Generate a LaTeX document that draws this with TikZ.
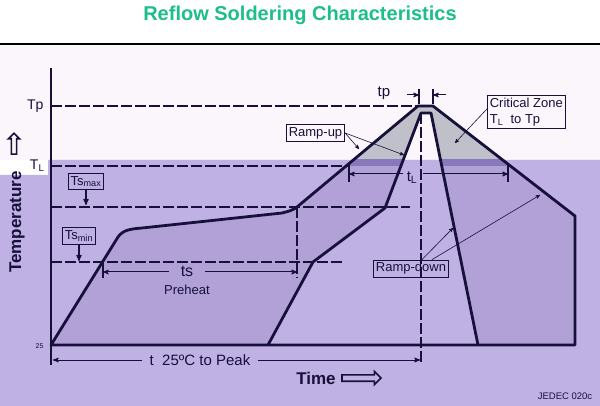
\documentclass[tikz,border=0pt]{standalone}
\usepackage{fontspec}
\setmainfont{Liberation Sans}
\usepackage{tikz}
\usetikzlibrary{arrows}
\usetikzlibrary{positioning}
\usetikzlibrary{shapes.arrows}
\definecolor{ink}{RGB}{22,16,58}
\definecolor{paper}{RGB}{251,245,252}
\definecolor{lilac}{RGB}{192,177,228}
\definecolor{lilacdark}{RGB}{177,161,215}
\definecolor{zonegray}{RGB}{192,192,202}
\definecolor{zoneband}{RGB}{135,121,186}
\definecolor{titlegreen}{RGB}{28,190,140}
\tikzstyle{level} = [ink,line width=1.8pt,dash pattern=on 11pt off 3pt]
\tikzstyle{profile} = [ink,line width=2.8pt,line join=round]
\tikzstyle{callout} = [draw=ink,line width=0.7pt,font=\fontsize{13}{16}\selectfont,inner sep=2.5pt]
\tikzstyle{pointer} = [->,ink,line width=0.6pt]
\tikzstyle{span} = [->,ink,line width=1pt]
\tikzstyle{tick} = [ink,line width=1.2pt]
\tikzstyle{axislabel} = [font=\fontsize{17}{19}\selectfont\bfseries]
\tikzstyle{fatarrow} = [single arrow,draw=ink,line width=1.6pt,single arrow head indent=0pt]
\def\outerpath{(51,345) -- (118,237) .. controls (123,230) and (130,229) .. (142,228)
  -- (282,213) .. controls (290,211) and (293,210) .. (297,207)
  -- (418,106) -- (433,106) -- (575,216) -- (575,345) -- cycle}
\def\innerpath{(268,345) -- (313,262) -- (385,208) -- (421,113) -- (431,113) -- (478,345) -- cycle}

\begin{document}
\begin{tikzpicture}[x=1pt,y=-1pt,> = stealth',every node/.style={text=ink}]
    \useasboundingbox (0,0) rectangle (600,406);
    % backgrounds
    \fill[white] (0,0) rectangle (600,44);
    \fill[paper] (0,44) rectangle (600,160);
    \fill[lilac] (0,175) -- (48,175) -- (48,160) -- (600,160) -- (600,406) -- (0,406) -- cycle;
    \draw[black,line width=2.5pt] (0,44) -- (600,44);

    \node[font=\fontsize{20}{24}\selectfont\bfseries,text=titlegreen] (title) at (300,15) {Reflow Soldering Characteristics};

    % shaded profile and critical zone
    \fill[lilacdark,even odd rule] \outerpath \innerpath;
    \begin{scope}
      \clip (0,0) rectangle (600,166);
      \fill[zonegray,even odd rule] \outerpath \innerpath;
    \end{scope}
    \begin{scope}
      \clip (0,160) rectangle (600,166);
      \fill[zoneband,even odd rule] \outerpath \innerpath;
    \end{scope}

    % levels
    \coordinate (tp0) at (51,106);   \coordinate (tp1) at (418,106);
    \coordinate (tl0) at (51,166);   \coordinate (tl1) at (348,166);
    \coordinate (smax0) at (51,207); \coordinate (smax1) at (410,207);
    \coordinate (smin0) at (51,262); \coordinate (smin1) at (344,262);
    \draw[level] (tp0) -- (tp1);
    \draw[level] (tl0) -- (tl1);
    \draw[level] (smax0) -- (smax1);
    \draw[level] (smin0) -- (smin1);
    \coordinate (pk0) at (421,113);  \coordinate (pk1) at (421,365);
    \draw[level,line width=1.6pt] (pk0) -- (pk1);
    \coordinate (ts0) at (297,207);  \coordinate (ts1) at (297,278);
    \draw[level,line width=1.4pt] (ts0) -- (ts1);

    % profile
    \draw[profile] \outerpath;
    \draw[profile] (268,345) -- (313,262) -- (385,208) -- (421,113) -- (431,113) -- (478,345);
    \coordinate (ax0) at (51,68);    \coordinate (ax1) at (51,365);
    \draw[ink,line width=2.8pt] (ax0) -- (ax1);

    % axis labels
    \node[anchor=east,font=\fontsize{14}{16}\selectfont] (tplab) at (47,106) {Tp};
    \node[anchor=east,font=\fontsize{14}{16}\selectfont] (tllab) at (48,166) {T\textsubscript{L}};
    \node[anchor=east,font=\fontsize{7}{8}\selectfont] (base) at (47,346) {25};
    \node[axislabel,rotate=90] (temp) at (17,222) {Temperature};
    \node[fatarrow,shape border rotate=90,minimum height=21pt,inner sep=1.8pt,single arrow head extend=3pt] (uparrow) at (14,145) {};
    \node[axislabel] (time) at (316,378) {Time};
    \node[fatarrow,minimum height=39pt,inner sep=2.4pt,single arrow head extend=3.4pt,right=2pt of time] (rightarrow) {};
    \node[font=\fontsize{9.5}{11}\selectfont] (jedec) at (565,396) {JEDEC 020c};

    % ts
    \coordinate (sa) at (103,262);   \coordinate (sb) at (103,278);
    \draw[tick] (sa) -- (sb);
    \node[font=\fontsize{16}{18}\selectfont] (ts) at (187,271) {ts};
    \node[font=\fontsize{13}{15}\selectfont,below=2pt of ts] (pre) {Preheat};
    \draw[span] (ts.west) ++(-8,1) -- (103,272);
    \draw[span] (ts.east) ++(8,1) -- (297,272);

    % tL
    \coordinate (la) at (349,165);   \coordinate (lb) at (349,182);
    \coordinate (lc) at (508,165);   \coordinate (ld) at (508,182);
    \draw[tick] (la) -- (lb);
    \draw[tick] (lc) -- (ld);
    \node[font=\fontsize{15}{17}\selectfont] (tl) at (412,178) {t\textsubscript{L}};
    \draw[span] (403,174) -- (349,174);
    \draw[span] (423,174) -- (508,174);

    % tp
    \node[font=\fontsize{15}{17}\selectfont] (tp) at (384,93) {tp};
    \coordinate (pa) at (419,89);    \coordinate (pb) at (419,104);
    \coordinate (pc) at (433,89);    \coordinate (pd) at (433,104);
    \draw[tick] (pa) -- (pb);
    \draw[tick] (pc) -- (pd);
    \draw[span] (407,95) -- (419,95);
    \draw[span] (446,95) -- (433,95);

    % t 25C to peak
    \node[font=\fontsize{15}{17}\selectfont] (tpeak) at (200,360) {t\ \ 25ºC to Peak};
    \draw[span] (tpeak.west) ++(-4,0) -- (53,360);
    \draw[span] (tpeak.east) ++(4,0) -- (420,360);

    % callouts
    \node[callout] (smax) at (86,181.5) {Ts\textsubscript{max}};
    \draw[->,ink,line width=1.2pt] (smax.south) -- (86,205);
    \node[callout] (smin) at (79,236) {Ts\textsubscript{min}};
    \draw[->,ink,line width=1.2pt] (smin.south) -- (79,261);
    \node[callout,fill=paper] (rampup) at (315.5,133) {Ramp-up};
    \draw[pointer] (rampup.east) -- (359,149);
    \draw[pointer] (rampup.east) -- (404,155);
    \node[callout,fill=paper,align=left,anchor=north west] (zone) at (487,95) {Critical Zone\\T\textsubscript{L}\ \ to Tp};
    \draw[pointer] ([yshift=3pt]zone.west) -- (455,143);
    \node[callout] (rampdown) at (411,268.5) {Ramp-down};
    \draw[pointer] ([xshift=11pt]rampdown.north) -- (453,228);
    \draw[pointer] ([xshift=21pt]rampdown.north) -- (540,195);
\end{tikzpicture}
\end{document}
